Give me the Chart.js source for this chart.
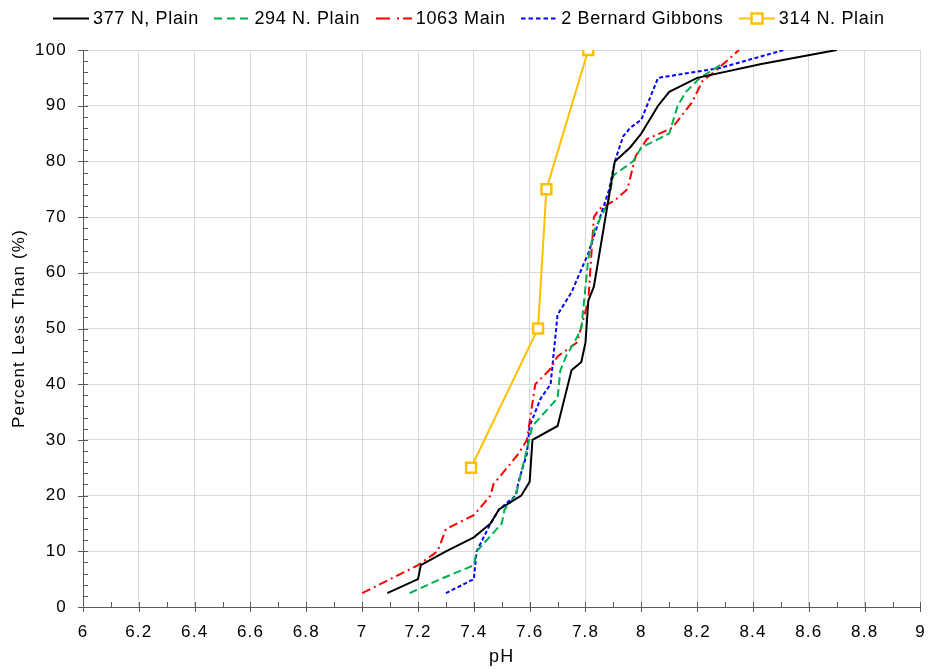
<!DOCTYPE html>
<html>
<head>
<meta charset="utf-8">
<script src="https://cdn.jsdelivr.net/npm/chart.js@4"></script>
<style>
    html, body { margin: 0; padding: 0; background: #fff; }
    #wrap { position: relative; width: 930px; height: 670px; }
    #legend {
        position: absolute; top: 8px; left: 53px;
        display: flex; align-items: center;
        font-family: 'Liberation Sans', Arial, sans-serif;
        font-size: 18px; letter-spacing: 0.65px; color: #000; white-space: nowrap;
        line-height: 20px;
    }
    .item { display: flex; align-items: center; margin-right: 15.5px; }
    .item svg { display: block; margin-right: 4px; }
</style>
</head>
<body>
<div id="wrap">
    <canvas id="chart" width="930" height="670"></canvas>
    <div id="legend"></div>
</div>
<script>
// 数据：pH 与累计百分比
const seriesNames = ['377 N, Plain', '294 N. Plain', '1063 Main', '2 Bernard Gibbons', '314 N. Plain'];

const plain377PH  = [7.09, 7.20, 7.21, 7.30, 7.40, 7.46, 7.49, 7.57, 7.60, 7.61, 7.70, 7.725, 7.75, 7.785, 7.80, 7.81, 7.83, 7.905, 7.96, 8.00, 8.06, 8.10, 8.20, 8.43, 8.70];
const plain377Pct = [2.5, 5, 7.5, 10, 12.5, 15, 17.5, 20, 22.5, 30, 32.5, 37.5, 42.5, 44, 47.5, 55, 57.5, 80, 82.5, 85, 90, 92.5, 95, 97.5, 100];

const plain294PH  = [7.17, 7.28, 7.40, 7.41, 7.50, 7.51, 7.55, 7.61, 7.70, 7.71, 7.73, 7.76, 7.785, 7.81, 7.83, 7.88, 7.90, 7.97, 8.00, 8.10, 8.13, 8.16, 8.21, 8.29];
const plain294Pct = [2.5, 5, 7.5, 10, 15, 17.5, 20, 32.5, 37.5, 42.5, 45, 47.5, 50, 62.5, 67.5, 72.5, 77.5, 80, 82.5, 85, 90, 92.5, 95, 97.5];

const main1063PH  = [7.00, 7.20, 7.27, 7.30, 7.40, 7.46, 7.47, 7.56, 7.59, 7.62, 7.67, 7.70, 7.77, 7.81, 7.82, 7.83, 7.85, 7.905, 7.95, 7.98, 8.02, 8.11, 8.18, 8.22, 8.26, 8.35];
const main1063Pct = [2.5, 7.5, 10, 14, 16.5, 20, 22, 27.5, 30, 40, 42.5, 45, 47.5, 55, 62.5, 70, 71.5, 73, 75, 81, 84, 86, 90.5, 94.5, 96, 100];

const gibbonsPH  = [7.30, 7.40, 7.41, 7.46, 7.49, 7.55, 7.56, 7.59, 7.60, 7.64, 7.675, 7.70, 7.75, 7.78, 7.81, 7.885, 7.905, 7.935, 7.96, 8.00, 8.06, 8.28, 8.51];
const gibbonsPct = [2.5, 5, 10, 15, 17.5, 20, 22.5, 27.5, 32.5, 37.5, 40, 52.5, 56.5, 60, 63.5, 75, 80, 84.5, 86, 87.5, 95, 96.75, 100];

const plain314PH  = [7.39, 7.63, 7.66, 7.81];
const plain314Pct = [25, 50, 75, 100];

// 刻度
const xMin = 6, xMax = 9, xStep = 0.2;
const yMin = 0, yMax = 100, yStep = 10;

const colors = ['#000000', '#00B050', '#FF0000', '#0000FF', '#FFC000'];
const dashes = [[], [8, 4], [9, 4, 2, 4], [4, 2.5], []];
const legendDashes = [[], [8, 5], [14, 7, 2, 4], [4.5, 3], []];

function toPoints(ph, pct) {
    return ph.map((v, i) => ({ x: v, y: pct[i] }));
}

const seriesData = [
    toPoints(plain377PH, plain377Pct),
    toPoints(plain294PH, plain294Pct),
    toPoints(main1063PH, main1063Pct),
    toPoints(gibbonsPH, gibbonsPct),
    toPoints(plain314PH, plain314Pct)
];

const datasets = seriesData.map((pts, i) => ({
    label: seriesNames[i],
    data: pts,
    showLine: true,
    borderColor: colors[i],
    borderWidth: 2,
    borderDash: dashes[i],
    backgroundColor: i === 4 ? '#ffffff' : colors[i],
    pointStyle: 'rect',
    pointRadius: i === 4 ? 7 : 0,
    pointBorderWidth: 2.5,
    pointBorderColor: colors[i],
    pointBackgroundColor: '#ffffff',
    tension: 0
}));

// 文字略微加宽
const wideText = {
    id: 'wideText',
    beforeDraw(chart) {
        chart.ctx.letterSpacing = '1.2px';
    }
};

// 十字刻度线与次刻度线
const tickMarks = {
    id: 'tickMarks',
    afterDraw(chart) {
        const ctx = chart.ctx;
        const xs = chart.scales.x, ys = chart.scales.y;
        const axisY = ys.bottom, axisX = xs.left;
        ctx.save();
        ctx.strokeStyle = '#595959';
        ctx.lineWidth = 1;
        ctx.beginPath();
        for (let v = xMin; v <= xMax + 1e-9; v += xStep / 2) {
            const px = Math.round(xs.getPixelForValue(v)) + 0.5;
            const major = Math.abs(v / xStep - Math.round(v / xStep)) < 1e-6;
            ctx.moveTo(px, axisY - 5);
            ctx.lineTo(px, major ? axisY + 5 : axisY);
        }
        for (let v = yMin; v <= yMax + 1e-9; v += yStep / 5) {
            const py = Math.round(ys.getPixelForValue(v)) + 0.5;
            const major = Math.abs(v % yStep) < 1e-6 || Math.abs(v % yStep - yStep) < 1e-6;
            ctx.moveTo(major ? axisX - 5 : axisX, py);
            ctx.lineTo(axisX + 5, py);
        }
        ctx.stroke();
        ctx.restore();
    }
};

const font = "'Liberation Sans', Arial, sans-serif";

new Chart(document.getElementById('chart'), {
    type: 'scatter',
    data: { datasets: datasets },
    plugins: [wideText, tickMarks],
    options: {
        responsive: false,
        animation: false,
        layout: { padding: { top: 50, right: 0, left: 0, bottom: 0 } },
        plugins: {
            legend: { display: false },
            tooltip: { enabled: false }
        },
        scales: {
            x: {
                type: 'linear',
                min: xMin, max: xMax,
                afterFit: s => { s.height = 63; s.paddingRight = 9; s.paddingLeft = 0; },
                ticks: {
                    stepSize: xStep,
                    padding: 15,
                    color: '#000',
                    font: { family: font, size: 17 },
                    callback: v => String(Number(v.toFixed(1)))
                },
                grid: { color: '#d9d9d9', lineWidth: 1, drawTicks: false },
                border: { color: '#595959', width: 1 },
                title: {
                    display: true, text: 'pH', color: '#000',
                    font: { family: font, size: 18 }, padding: { top: 0, bottom: 2 }
                }
            },
            y: {
                min: yMin, max: yMax,
                afterFit: s => { s.width = 83; },
                ticks: {
                    stepSize: yStep,
                    padding: 16,
                    color: '#000',
                    font: { family: font, size: 17 }
                },
                grid: { color: '#d9d9d9', lineWidth: 1, drawTicks: false },
                border: { color: '#595959', width: 1 },
                title: {
                    display: true, text: 'Percent Less Than (%)', color: '#000',
                    font: { family: font, size: 17 }, padding: { top: 9, bottom: 0 }
                }
            }
        }
    }
});

// 图例（HTML）
const legendEl = document.getElementById('legend');
seriesNames.forEach((name, i) => {
    const item = document.createElement('div');
    item.className = 'item';
    let marker = '';
    if (i === 4) {
        marker = `<rect x="12.5" y="1.5" width="11" height="10" fill="#fff" stroke="${colors[i]}" stroke-width="2.5"/>`;
    }
    item.innerHTML = `
        <svg width="36" height="13">
            <line x1="0" y1="6.5" x2="36" y2="6.5" stroke="${colors[i]}" stroke-width="2"
                  stroke-dasharray="${legendDashes[i].join(' ')}"/>
            ${marker}
        </svg>
        <span>${name}</span>`;
    legendEl.appendChild(item);
});
</script>
</body>
</html>
